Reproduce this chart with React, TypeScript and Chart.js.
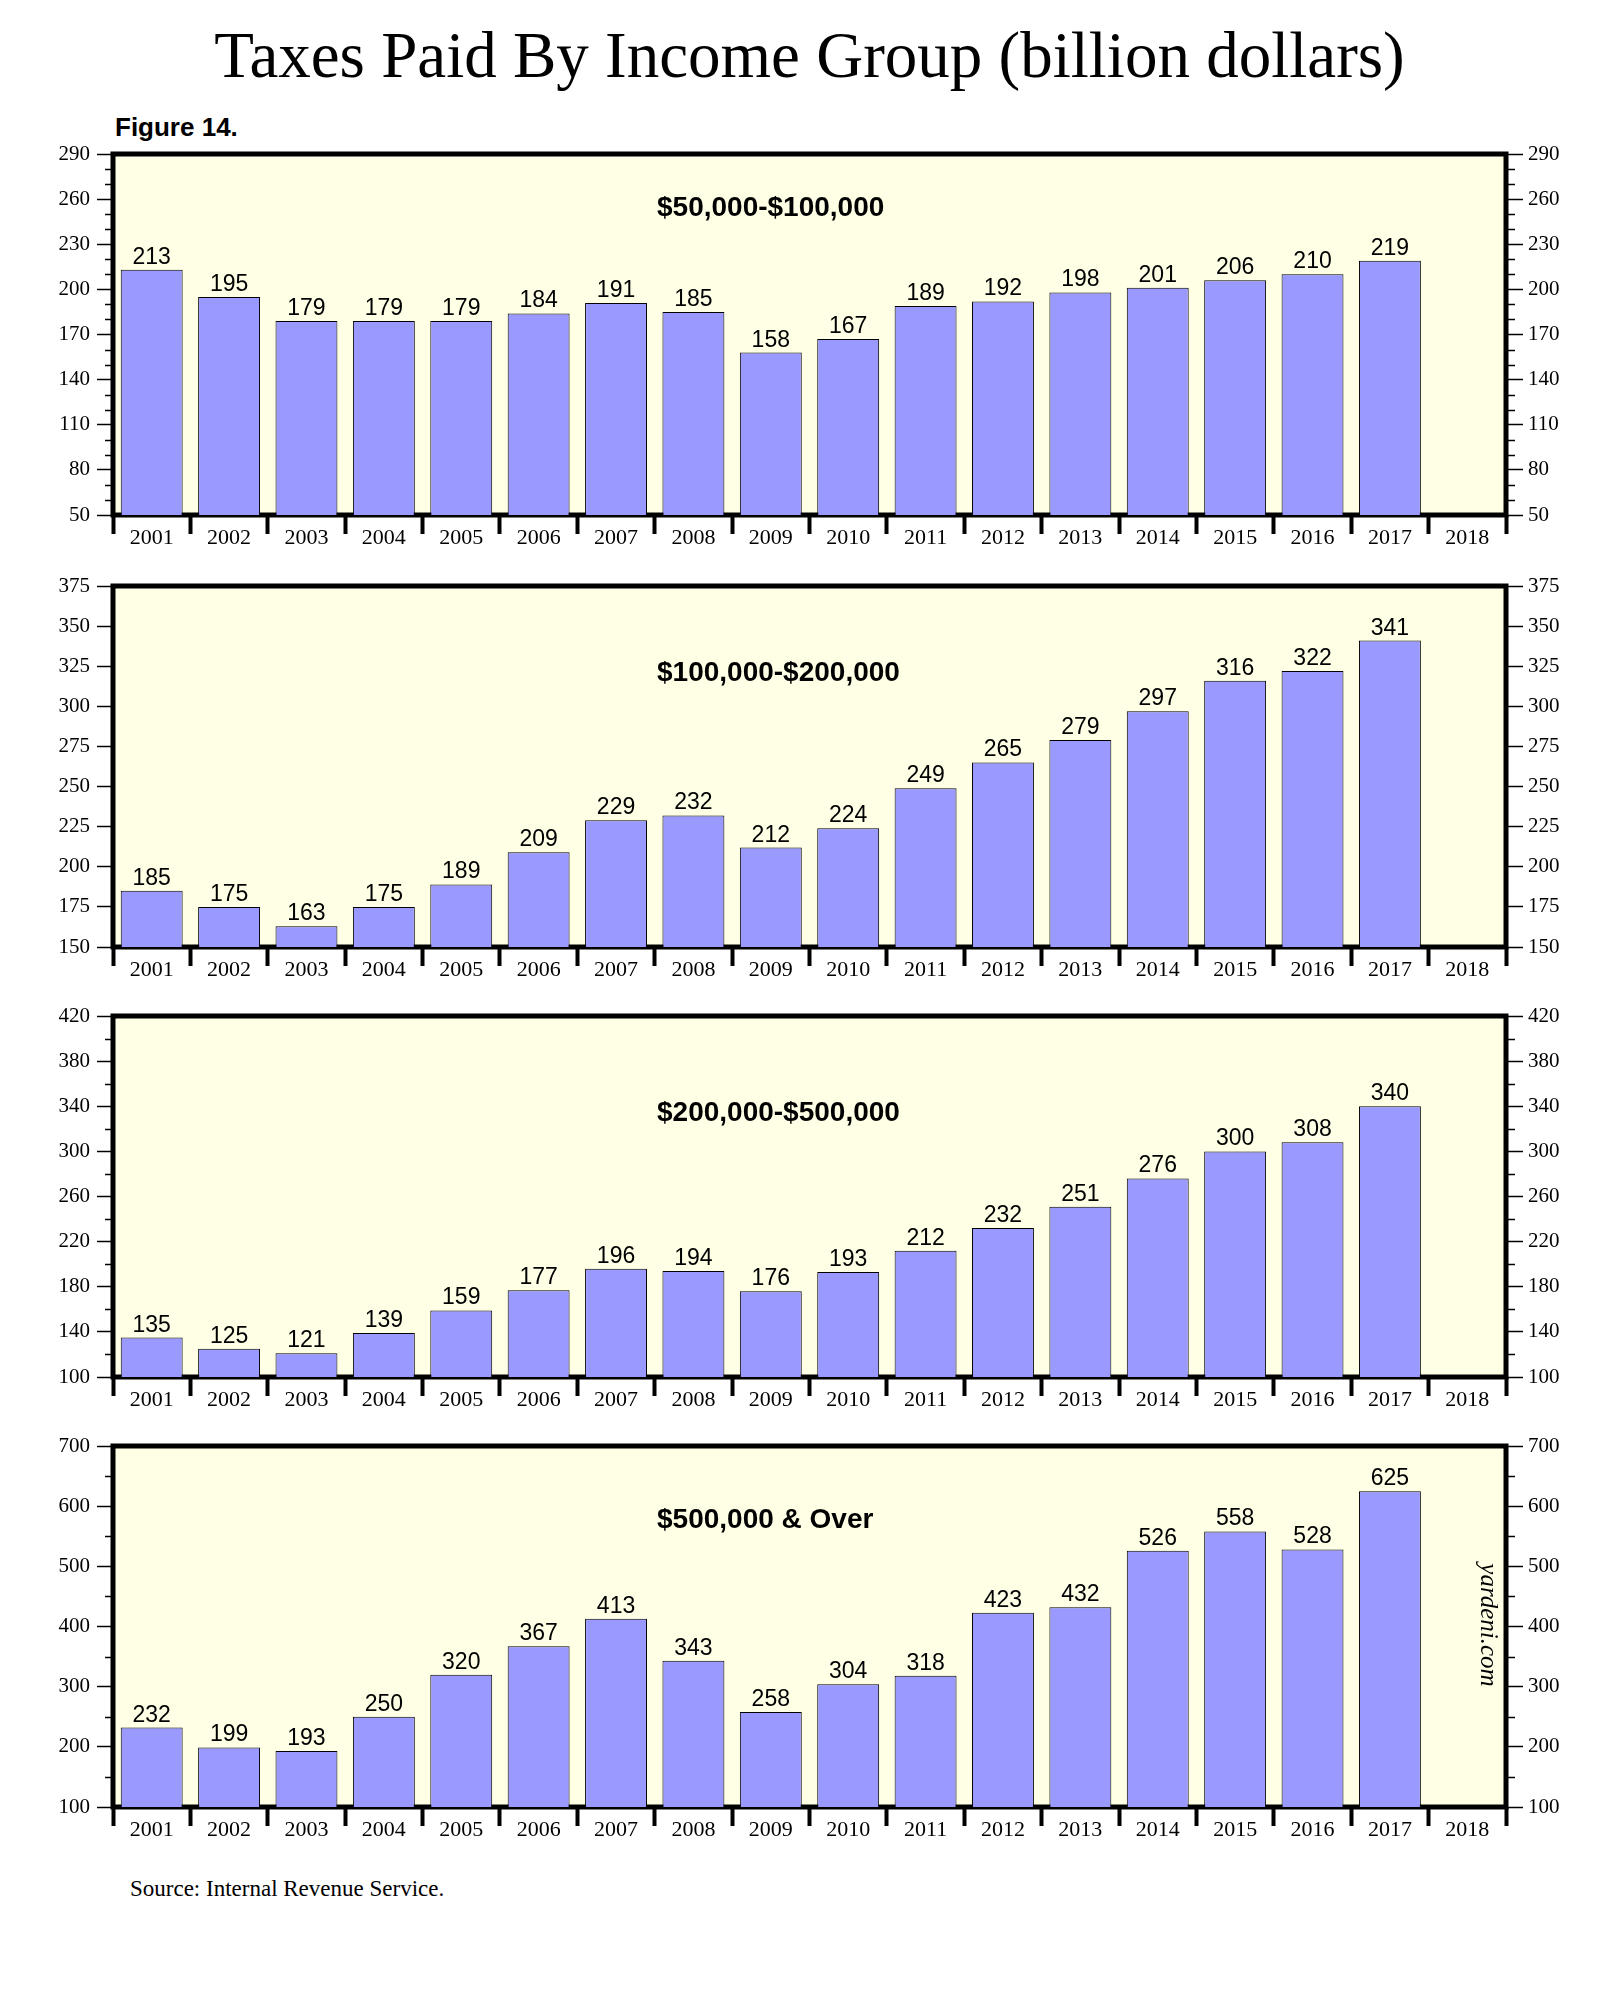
import { useEffect, useRef } from "react";
import Chart from "chart.js/auto";

// years on the x axis (2018 has no bar yet)
const years = [
  "2001", "2002", "2003", "2004", "2005", "2006", "2007", "2008", "2009",
  "2010", "2011", "2012", "2013", "2014", "2015", "2016", "2017", "2018",
];

// taxes paid, billion dollars
const taxes50kTo100k = [213, 195, 179, 179, 179, 184, 191, 185, 158, 167, 189, 192, 198, 201, 206, 210, 219, null];
const taxes100kTo200k = [185, 175, 163, 175, 189, 209, 229, 232, 212, 224, 249, 265, 279, 297, 316, 322, 341, null];
const taxes200kTo500k = [135, 125, 121, 139, 159, 177, 196, 194, 176, 193, 212, 232, 251, 276, 300, 308, 340, null];
const taxes500kAndOver = [232, 199, 193, 250, 320, 367, 413, 343, 258, 304, 318, 423, 432, 526, 558, 528, 625, null];

// y axis ranges: [min, max, major step, minor step]
const axis50kTo100k = [50, 290, 30, 10];
const axis100kTo200k = [150, 375, 25, 0];
const axis200kTo500k = [100, 420, 40, 20];
const axis500kAndOver = [100, 700, 100, 50];

const W = 1619;
const PAD_TOP = 20;
const PLOT_H = 361;
const X_AXIS_H = 50;
const CANVAS_H = PAD_TOP + PLOT_H + X_AXIS_H;

const SERIF = '"Liberation Serif", "Times New Roman", serif';
const SANS = '"Liberation Sans", Arial, sans-serif';

interface PanelProps {
  values: (number | null)[];
  range: number[];
  label: string;
  labelY: number;
  top: number;
  watermark?: boolean;
}

function Panel({ values, range, label, labelY, top, watermark }: PanelProps) {
  const canvasRef = useRef<HTMLCanvasElement>(null);

  useEffect(() => {
    if (!canvasRef.current) return;
    const [min, max, step, minor] = range;

    const decor = {
      id: "decor",
      beforeDraw(chart: any) {
        const { ctx, chartArea: a } = chart;
        ctx.save();
        ctx.fillStyle = "#FFFFE6";
        ctx.fillRect(a.left, a.top, a.right - a.left, a.bottom - a.top);
        ctx.restore();
      },
      beforeDatasetsDraw(chart: any) {
        const { ctx, chartArea: a } = chart;
        ctx.save();
        ctx.strokeStyle = "#000";
        ctx.lineWidth = 5;
        ctx.strokeRect(a.left, a.top, a.right - a.left, a.bottom - a.top);
        ctx.restore();
      },
      afterDatasetsDraw(chart: any) {
        const { ctx, chartArea: a } = chart;
        const yScale = chart.scales.y;
        ctx.save();

        // minor ticks on both sides
        if (minor) {
          ctx.strokeStyle = "#000";
          ctx.lineWidth = 1.5;
          for (let v = min; v <= max; v += minor) {
            if ((v - min) % step === 0) continue;
            const py = Math.round(yScale.getPixelForValue(v)) + 0.5;
            ctx.beginPath();
            ctx.moveTo(a.left - 8, py);
            ctx.lineTo(a.left, py);
            ctx.moveTo(a.right, py);
            ctx.lineTo(a.right + 9, py);
            ctx.stroke();
          }
        }

        // value labels above bars
        ctx.fillStyle = "#000";
        ctx.font = `23px ${SANS}`;
        ctx.textAlign = "center";
        ctx.textBaseline = "alphabetic";
        const meta = chart.getDatasetMeta(0);
        meta.data.forEach((bar: any, i: number) => {
          const v = values[i];
          if (v == null) return;
          ctx.fillText(String(v), bar.x, bar.y - 6);
        });

        // panel title
        ctx.font = `bold 28px ${SANS}`;
        ctx.textAlign = "left";
        ctx.fillText(label, a.left + 544, a.top + labelY);

        if (watermark) {
          ctx.translate(a.right - 18, a.top + 179);
          ctx.rotate(Math.PI / 2);
          ctx.font = `italic 25px ${SERIF}`;
          ctx.textAlign = "center";
          ctx.textBaseline = "middle";
          ctx.fillText("yardeni.com", 0, 0);
        }
        ctx.restore();
      },
    };

    const yAxis = (position: "left" | "right") => ({
      position,
      min,
      max,
      border: { display: false },
      grid: {
        drawOnChartArea: false,
        tickLength: position === "left" ? 16 : 17,
        tickWidth: 1.5,
        tickColor: "#000",
      },
      ticks: {
        stepSize: step,
        color: "#000",
        padding: position === "left" ? 7 : 5,
        font: { family: SERIF, size: 21 },
      },
      afterFit: (s: any) => {
        s.width = 113;
      },
    });

    const chart = new Chart(canvasRef.current, {
      type: "bar",
      data: {
        labels: years,
        datasets: [
          {
            data: values,
            backgroundColor: "#9999FF",
            borderColor: "#000",
            borderWidth: 1,
            barPercentage: 0.8,
            categoryPercentage: 1,
            yAxisID: "y",
          },
        ],
      },
      options: {
        animation: false,
        responsive: false,
        devicePixelRatio: 1,
        layout: { padding: { top: PAD_TOP, left: 0, right: 0, bottom: 0 } },
        plugins: {
          legend: { display: false },
          tooltip: { enabled: false },
        },
        scales: {
          x: {
            type: "category",
            offset: true,
            border: { display: false },
            grid: {
              offset: true,
              drawOnChartArea: false,
              tickLength: 19,
              tickWidth: 4,
              tickColor: "#000",
            },
            ticks: {
              color: "#000",
              padding: -9,
              autoSkip: false,
              maxRotation: 0,
              font: { family: SERIF, size: 22 },
            },
            afterFit: (s: any) => {
              s.height = X_AXIS_H;
            },
          },
          y: yAxis("left"),
          y2: yAxis("right"),
        },
      } as any,
      plugins: [decor],
    });

    return () => chart.destroy();
  }, [values, range, label, labelY, watermark]);

  return (
    <canvas
      ref={canvasRef}
      width={W}
      height={CANVAS_H}
      style={{ position: "absolute", left: 0, top: top - PAD_TOP, width: W, height: CANVAS_H }}
    />
  );
}

export default function App() {
  return (
    <div style={{ position: "absolute", left: 0, top: 0, width: W, height: 2001, background: "#fff" }}>
      <div
        style={{
          position: "absolute",
          left: 0,
          top: 23,
          width: W,
          textAlign: "center",
          fontFamily: SERIF,
          fontSize: 65,
          lineHeight: "65px",
          color: "#000",
          whiteSpace: "nowrap",
        }}
      >
        Taxes Paid By Income Group (billion dollars)
      </div>
      <div
        style={{
          position: "absolute",
          left: 115,
          top: 114,
          fontFamily: SANS,
          fontWeight: "bold",
          fontSize: 26,
          lineHeight: "26px",
          color: "#000",
        }}
      >
        Figure 14.
      </div>

      <Panel values={taxes50kTo100k} range={axis50kTo100k} label="$50,000-$100,000" labelY={62} top={154} />
      <Panel values={taxes100kTo200k} range={axis100kTo200k} label="$100,000-$200,000" labelY={95} top={586} />
      <Panel values={taxes200kTo500k} range={axis200kTo500k} label="$200,000-$500,000" labelY={105} top={1016} />
      <Panel values={taxes500kAndOver} range={axis500kAndOver} label="$500,000 & Over" labelY={82} top={1446} watermark />

      <div
        style={{
          position: "absolute",
          left: 130,
          top: 1877,
          fontFamily: SERIF,
          fontSize: 23,
          lineHeight: "23px",
          color: "#000",
        }}
      >
        Source: Internal Revenue Service.
      </div>
    </div>
  );
}
